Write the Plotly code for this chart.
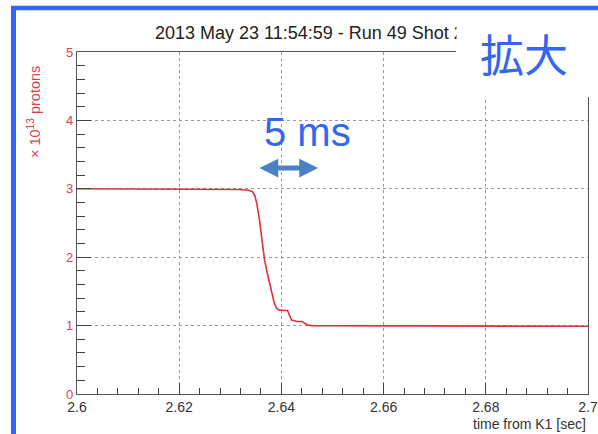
import plotly.graph_objects as go

# ---- data ----
time_s = [2.600, 2.610, 2.620, 2.630, 2.632, 2.6335, 2.6343, 2.6348, 2.6352,
          2.6357, 2.6362, 2.6367, 2.6372, 2.6377, 2.6382, 2.6386, 2.6390,
          2.6395, 2.6405, 2.6412, 2.6416, 2.6420, 2.6430, 2.6441, 2.6446,
          2.6451, 2.6460, 2.650, 2.660, 2.670, 2.680, 2.690, 2.700]
protons_e13 = [3.00, 3.00, 3.00, 3.00, 2.99, 2.98, 2.96, 2.90, 2.78,
               2.55, 2.25, 1.96, 1.78, 1.62, 1.47, 1.33, 1.26,
               1.23, 1.22, 1.22, 1.15, 1.08, 1.06, 1.06, 1.03,
               1.01, 1.00, 1.00, 0.995, 0.99, 0.99, 0.99, 0.99]

x_range = [2.6, 2.7]
y_range = [0, 5]
x_tickvals = [2.6, 2.62, 2.64, 2.66, 2.68, 2.7]
x_ticktext = ["2.6", "2.62", "2.64", "2.66", "2.68", "2.7"]
y_tickvals = [0, 1, 2, 3, 4, 5]

title_text = "2013 May 23 11:54:59 - Run 49 Shot 2"
y_label = "× 10<sup>13</sup> protons"
x_label = "time from K1 [sec]"
zoom_label = "拡大"
scale_label = "5 ms"

# ---- layout geometry (pixels) ----
W, H = 598, 434
L, R, T, B = 77, 10, 52, 40
PW = W - L - R
PH = H - T - B


def px(x):
    return (x - L) / PW


def py(y):
    return (H - B - y) / PH


RED = "#e0303a"
TICKRED = "#e0404c"
BLUE = "#3566f2"
ARROW = "#4a80c4"

fig = go.Figure()
fig.add_trace(go.Scatter(x=time_s, y=protons_e13, mode="lines",
                         line=dict(color=RED, width=1.6), hoverinfo="skip",
                         showlegend=False))

fig.update_layout(
    width=W, height=H,
    margin=dict(l=L, r=R, t=T, b=B),
    paper_bgcolor="white", plot_bgcolor="white",
    font=dict(family="Liberation Sans, Arial, sans-serif"),
    xaxis=dict(range=x_range, tickvals=x_tickvals, ticktext=x_ticktext,
               automargin=False,
               ticks="inside", ticklen=11, tickcolor="#444", tickwidth=1,
               showline=True, linecolor="#555", linewidth=1.3, mirror=True,
               showgrid=True, gridcolor="#9a9a9a", griddash="dot", gridwidth=1,
               zeroline=False,
               tickfont=dict(size=14, color="#333"),
               minor=dict(dtick=0.004, ticks="inside", ticklen=6,
                          tickcolor="#444", showgrid=False)),
    yaxis=dict(range=y_range, tickvals=y_tickvals, automargin=False,
               ticks="inside", ticklen=14, tickcolor="#444", tickwidth=1,
               showline=True, linecolor="#555", linewidth=1.3, mirror=True,
               showgrid=True, gridcolor="#9a9a9a", griddash="dot", gridwidth=1,
               zeroline=False,
               tickfont=dict(size=13, color=TICKRED),
               minor=dict(dtick=0.2, ticks="inside", ticklen=8,
                          tickcolor="#444", showgrid=False)),
)

annotations = [
    dict(text=title_text, x=px(153), y=py(33), xref="paper", yref="paper",
         xanchor="left", yanchor="middle", showarrow=False,
         font=dict(size=18, color="#222")),
    dict(text=y_label, x=px(34), y=py(112), xref="paper", yref="paper",
         xanchor="center", yanchor="middle", textangle=-90, showarrow=False,
         font=dict(size=14.5, color=TICKRED)),
    dict(text=x_label, x=1.0, y=py(424), xref="paper", yref="paper",
         xanchor="right", yanchor="middle", showarrow=False,
         font=dict(size=14, color="#333")),
    dict(text=scale_label, x=px(307), y=py(132), xref="paper", yref="paper",
         xanchor="center", yanchor="middle", showarrow=False,
         font=dict(size=40, color=BLUE, family="Liberation Sans, Arial")),
    dict(text="", x=px(318), y=py(168), xref="paper", yref="paper",
         ax=-60, ay=0, axref="pixel", ayref="pixel", showarrow=True,
         arrowside="end+start", arrowhead=2, arrowsize=0.75, arrowwidth=5,
         arrowcolor=ARROW),
    # the 拡大 label sits on a white patch that hides the corner of the chart
    dict(text=zoom_label, x=px(456), y=py(12), xref="paper", yref="paper",
         xanchor="left", yanchor="top", showarrow=False,
         width=132, height=77, bgcolor="white", align="center",
         valign="middle",
         font=dict(size=44, color=BLUE, family="Noto Sans CJK JP")),
]

shapes = [
    dict(type="rect", xref="paper", yref="paper", x0=px(456), x1=px(600),
         y0=py(97), y1=py(12), fillcolor="white", line=dict(width=0),
         layer="above"),
    # blue frame lines
    dict(type="line", xref="paper", yref="paper", x0=px(13.5), x1=px(13.5),
         y0=py(6), y1=py(436), line=dict(color=BLUE, width=5), layer="above"),
    dict(type="line", xref="paper", yref="paper", x0=px(11), x1=px(600),
         y0=py(8), y1=py(8), line=dict(color=BLUE, width=4.5), layer="above"),
]

fig.update_layout(annotations=annotations, shapes=shapes)
fig.write_html("out.html")
